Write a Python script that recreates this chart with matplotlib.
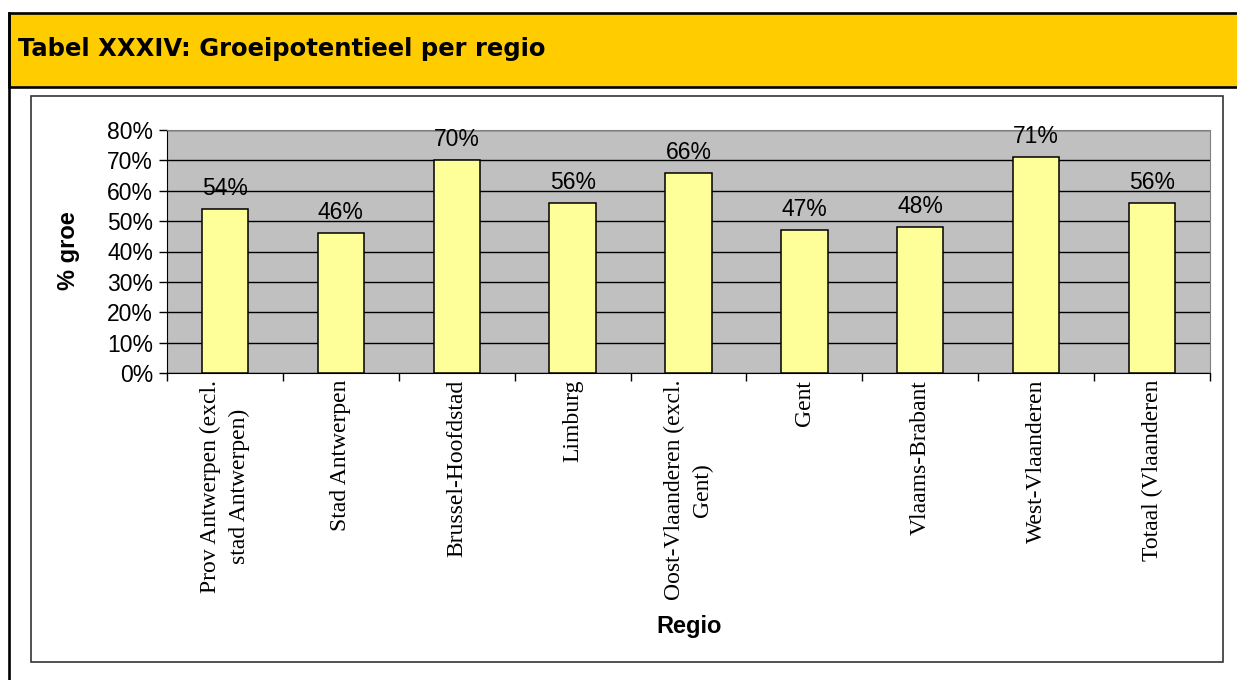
import numpy as np
from matplotlib import pyplot as plt
from matplotlib.patches import Rectangle
from matplotlib.lines import Line2D

regios = ['Prov Antwerpen (excl.\nstad Antwerpen)', 'Stad Antwerpen', 'Brussel-Hoofdstad',
          'Limburg', 'Oost-Vlaanderen (excl.\nGent)', 'Gent', 'Vlaams-Brabant',
          'West-Vlaanderen', 'Totaal (Vlaanderen']
groei = [0.54, 0.46, 0.70, 0.56, 0.66, 0.47, 0.48, 0.71, 0.56]
yticks = [0, 0.1, 0.2, 0.3, 0.4, 0.5, 0.6, 0.7, 0.8]

W, H = 1237, 680
def fx(px):
    return px / W
def fy(py):
    return 1 - py / H

fig = plt.figure(figsize=(W / 100, H / 100), dpi=100)
fig.patch.set_facecolor('white')

# kader + gele titelbalk
fig.patches.append(Rectangle((fx(9), fy(87)), 1.05, fy(13) - fy(87), transform=fig.transFigure,
                             facecolor='#FFCC00', edgecolor='black', lw=1.9))
fig.lines.append(Line2D([fx(9), fx(9)], [fy(13), -0.05], transform=fig.transFigure,
                        color='black', lw=1.9))
fig.text(fx(18), fy(49), 'Tabel XXXIV: Groeipotentieel per regio', fontsize=17.5,
         fontweight='bold', family='DejaVu Sans', va='center', ha='left')

# kader rond grafiek
fig.patches.append(Rectangle((fx(31), fy(662)), fx(1223) - fx(31), fy(96) - fy(662),
                             transform=fig.transFigure, fill=False, edgecolor='#333333', lw=1.2))

ax = fig.add_axes([fx(167), fy(373), fx(1210) - fx(167), fy(130) - fy(373)])
ax.set_facecolor('#C0C0C0')
x = np.arange(len(regios))
ax.bar(x, groei, width=0.4, color='#FFFF99', edgecolor='black', lw=1.1, zorder=3)
for xi, v in zip(x, groei):
    ax.annotate('%d%%' % round(v * 100), (xi, v), xytext=(0, 10), textcoords='offset points',
                ha='center', va='baseline', fontsize=16.5, family='Liberation Sans', zorder=4)

ax.set_ylim(0, 0.8)
ax.set_xlim(-0.5, len(regios) - 0.5)
ax.set_yticks(yticks)
ax.set_yticklabels(['%d%%' % round(t * 100) for t in yticks], family='Liberation Sans', fontsize=16.5)
ax.yaxis.grid(True, color='black', lw=1)
ax.set_axisbelow(True)
ax.tick_params(axis='y', length=6, width=1, pad=4, direction='out')

ax.set_xticks(x)
ax.set_xticklabels(regios, rotation=90, family='Liberation Serif', fontsize=17,
                   va='top', ha='center', multialignment='center', linespacing=1.45)
ax.tick_params(axis='x', which='major', length=0, pad=5)
ax.set_xticks(np.arange(-0.5, len(regios)), minor=True)
ax.tick_params(axis='x', which='minor', length=6, width=1, direction='out')

for s in ['top', 'right']:
    ax.spines[s].set_color('#808080')
ax.spines['left'].set_color('black')
ax.spines['bottom'].set_color('black')

fig.text(fx(68), fy(251), '% groe', rotation=90, fontsize=17, fontweight='bold',
         family='Liberation Sans', ha='center', va='center')
fig.text(fx(689), fy(626), 'Regio', fontsize=17, fontweight='bold',
         family='Liberation Sans', ha='center', va='center')

plt.savefig('out.png', dpi=100)
